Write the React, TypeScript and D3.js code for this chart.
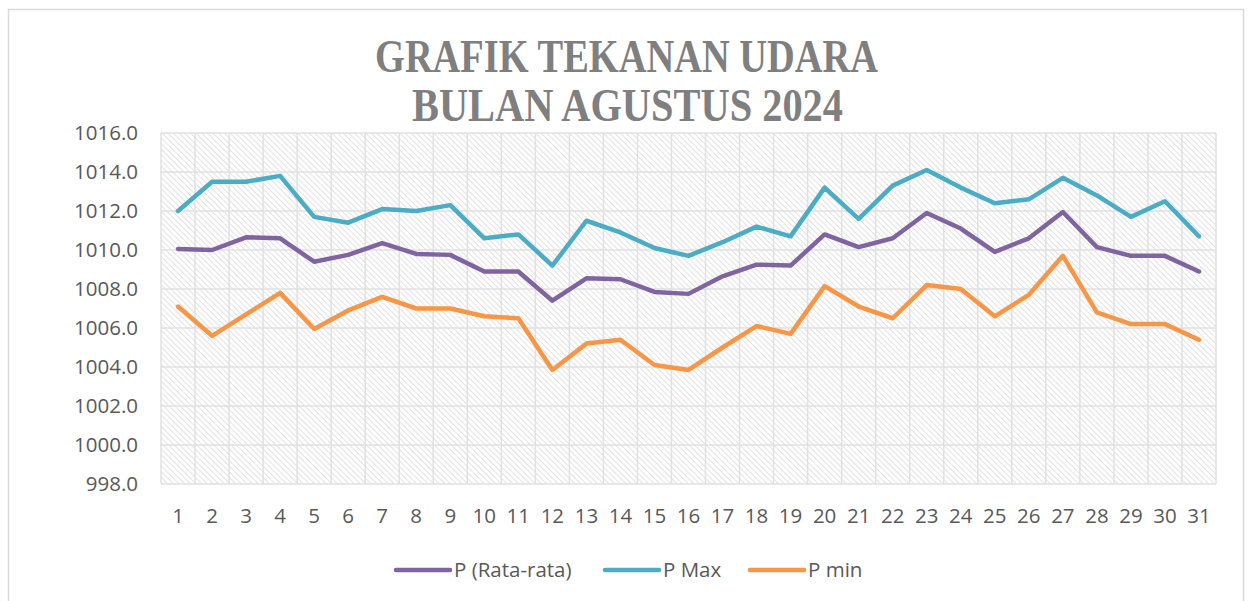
import React, {useEffect, useRef} from 'react';
import * as d3 from 'd3';

const width = 1250;
const height = 601;

const days = d3.range(1, 32).map(String);
const pAvg = [1010.05, 1010.0, 1010.65, 1010.6, 1009.4, 1009.75, 1010.35, 1009.8, 1009.75, 1008.9, 1008.9, 1007.4, 1008.55, 1008.5, 1007.85, 1007.75, 1008.65, 1009.25, 1009.2, 1010.8, 1010.15, 1010.6, 1011.9, 1011.1, 1009.9, 1010.6, 1011.95, 1010.15, 1009.7, 1009.7, 1008.9];
const pMax = [1012.0, 1013.5, 1013.5, 1013.8, 1011.7, 1011.4, 1012.1, 1012.0, 1012.3, 1010.6, 1010.8, 1009.2, 1011.5, 1010.9, 1010.1, 1009.7, 1010.4, 1011.2, 1010.7, 1013.2, 1011.6, 1013.3, 1014.1, 1013.2, 1012.4, 1012.6, 1013.7, 1012.8, 1011.7, 1012.5, 1010.7];
const pMin = [1007.1, 1005.6, 1006.7, 1007.8, 1005.95, 1006.9, 1007.6, 1007.0, 1007.0, 1006.6, 1006.5, 1003.85, 1005.2, 1005.4, 1004.1, 1003.85, 1005.0, 1006.1, 1005.7, 1008.15, 1007.1, 1006.5, 1008.2, 1008.0, 1006.6, 1007.7, 1009.7, 1006.8, 1006.2, 1006.2, 1005.4];
const yTicks = [998, 1000, 1002, 1004, 1006, 1008, 1010, 1012, 1014, 1016];
const seriesNames = ['P (Rata-rata)', 'P Max', 'P min'];
const seriesColors = ['#8064a2', '#4bacc6', '#f79646'];

const FONT = '"Open Sans", "Liberation Sans", sans-serif';

const App = () => {
    const ref = useRef<HTMLDivElement>(null);

    useEffect(() => {
        d3.select(ref.current).selectAll('*').remove();
        const svg = d3.select(ref.current)
            .append('svg')
            .attr('width', width)
            .attr('height', height)
            .style('position', 'absolute')
            .style('left', '0px')
            .style('top', '0px')
            .style('background', '#fff');

        // hatch fill of the plot area
        const defs = svg.append('defs');
        const pat = defs.append('pattern')
            .attr('id', 'hatch')
            .attr('patternUnits', 'userSpaceOnUse')
            .attr('width', 4)
            .attr('height', 4)
            .attr('patternTransform', 'rotate(-45)');
        pat.append('rect').attr('width', 4).attr('height', 4).attr('fill', '#fff');
        pat.append('line')
            .attr('x1', 0).attr('y1', 0).attr('x2', 0).attr('y2', 4)
            .attr('stroke', '#d9d9d9')
            .attr('stroke-width', 1.5);

        // chart frame
        svg.append('rect')
            .attr('x', 8.5).attr('y', 9.5)
            .attr('width', 1235).attr('height', 600)
            .attr('fill', 'none')
            .attr('stroke', '#d9d9d9')
            .attr('stroke-width', 1.5);

        const left = 161, right = 1216, top = 133, bottom = 484;

        const x = d3.scaleBand().domain(days).range([left, right]).paddingInner(0).paddingOuter(0);
        const y = d3.scaleLinear().domain([998, 1016]).range([bottom, top]);

        svg.append('rect')
            .attr('x', left).attr('y', top)
            .attr('width', right - left).attr('height', bottom - top)
            .attr('fill', 'url(#hatch)');

        // gridlines
        const grid = svg.append('g').attr('stroke', '#e1e1e1').attr('stroke-width', 1.5);
        yTicks.forEach(t => {
            grid.append('line')
                .attr('x1', left).attr('x2', right)
                .attr('y1', y(t)).attr('y2', y(t));
        });
        days.forEach(d => {
            grid.append('line')
                .attr('x1', x(d)!).attr('x2', x(d)!)
                .attr('y1', top).attr('y2', bottom);
        });
        grid.append('line').attr('x1', right).attr('x2', right).attr('y1', top).attr('y2', bottom);

        // y axis labels
        svg.append('g')
            .selectAll('text')
            .data(yTicks)
            .enter()
            .append('text')
            .attr('x', 138)
            .attr('y', d => y(d) + 7)
            .attr('text-anchor', 'end')
            .attr('font-family', FONT)
            .attr('font-size', 20.5)
            .attr('fill', '#595959')
            .text(d => d.toFixed(1));

        // x axis labels
        svg.append('g')
            .selectAll('text')
            .data(days)
            .enter()
            .append('text')
            .attr('x', d => x(d)! + x.bandwidth() / 2)
            .attr('y', 523)
            .attr('text-anchor', 'middle')
            .attr('font-family', FONT)
            .attr('font-size', 20.5)
            .attr('fill', '#595959')
            .text(d => d);

        // lines
        const line = d3.line<number>()
            .x((d, i) => x(days[i])! + x.bandwidth() / 2)
            .y(d => y(d));
        [pAvg, pMax, pMin].forEach((s, i) => {
            svg.append('path')
                .datum(s)
                .attr('d', line)
                .attr('fill', 'none')
                .attr('stroke', seriesColors[i])
                .attr('stroke-width', 4.5)
                .attr('stroke-linejoin', 'round')
                .attr('stroke-linecap', 'round');
        });

        // title
        const title = svg.append('g')
            .attr('font-family', '"Liberation Serif", "DejaVu Serif", serif')
            .attr('font-weight', 'bold')
            .attr('fill', '#7f7f7f')
            .attr('font-size', 46);
        title.append('text').attr('x', 375).attr('y', 72)
            .attr('textLength', 503).attr('lengthAdjust', 'spacingAndGlyphs')
            .text('GRAFIK TEKANAN UDARA');
        title.append('text').attr('x', 412).attr('y', 121)
            .attr('textLength', 431).attr('lengthAdjust', 'spacingAndGlyphs')
            .text('BULAN AGUSTUS 2024');

        // legend
        const legendX = [396, 605, 750];
        const legend = svg.append('g');
        seriesNames.forEach((n, i) => {
            legend.append('line')
                .attr('x1', legendX[i]).attr('x2', legendX[i] + 54)
                .attr('y1', 570).attr('y2', 570)
                .attr('stroke', seriesColors[i])
                .attr('stroke-width', 4.5)
                .attr('stroke-linecap', 'round');
            legend.append('text')
                .attr('x', legendX[i] + 58)
                .attr('y', 577)
                .attr('font-family', FONT)
                .attr('font-size', 20.5)
                .attr('fill', '#595959')
                .text(n);
        });
    });

    return <div ref={ref}></div>;
};

export default App;
